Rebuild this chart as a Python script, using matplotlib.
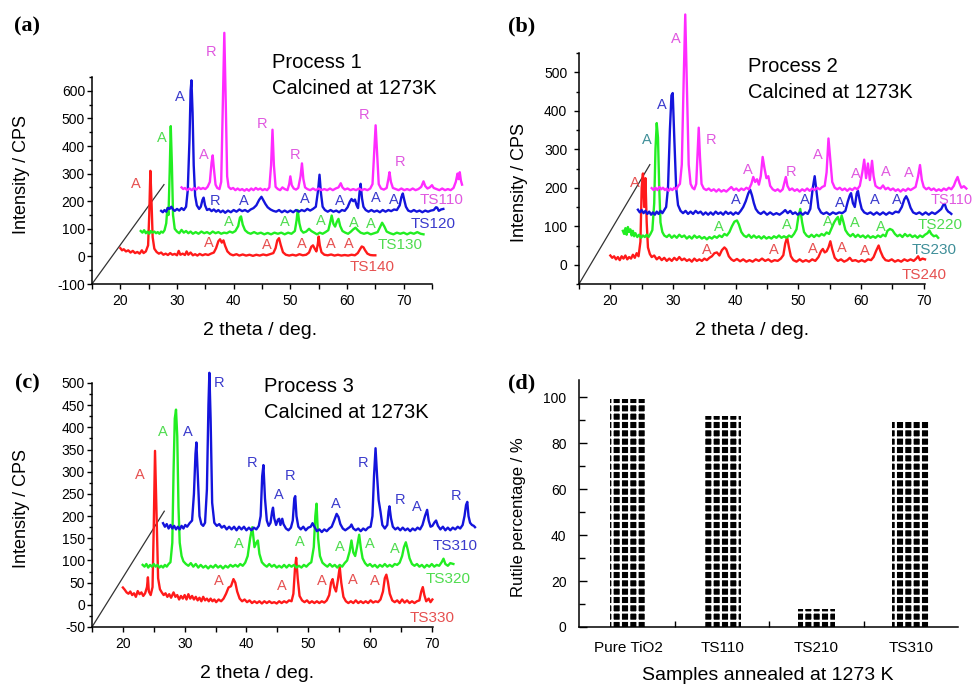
import matplotlib
matplotlib.use("Agg")
import matplotlib.pyplot as plt
from matplotlib.ticker import MultipleLocator

plt.rcParams['font.family'] = ['Liberation Sans', 'DejaVu Sans']
plt.rcParams['hatch.linewidth'] = 1.6
plt.rcParams['axes.unicode_minus'] = False

# ---------------- panel (a): process 1, traces as drawn (offset waterfall) ----------------
a_ts140 = [(20.0, 30), (20.3, 22), (20.6, 26), (21.0, 18), (21.4, 22), (21.8, 14), (22.2, 20), (22.6, 12),
           (23.0, 16), (23.4, 10), (23.8, 22), (24.1, 12), (24.5, 18), (24.9, 40), (25.1, 150), (25.3, 310),
           (25.5, 200), (25.7, 70), (26.0, 28), (26.4, 16), (26.8, 10), (27.2, 14), (27.6, 6), (28.0, 10),
           (28.4, 5), (28.8, 12), (29.2, 6), (29.6, 9), (30.0, 4), (30.3, 20), (30.6, 6), (31.0, 10),
           (31.4, 5), (31.7, 18), (32.0, 6), (32.4, 14), (32.8, 4), (33.2, 8), (33.6, 3), (34.0, 9),
           (34.5, 4), (35.0, 8), (35.5, 5), (36.0, 10), (36.5, 14), (36.9, 30), (37.3, 55), (37.6, 62),
           (37.9, 50), (38.2, 58), (38.5, 38), (38.9, 18), (39.4, 8), (39.9, 4), (40.5, 8), (41.0, 3),
           (41.6, 7), (42.2, 3), (42.8, 6), (43.4, 2), (44.0, 6), (44.6, 3), (45.2, 7), (45.8, 4),
           (46.4, 8), (47.0, 12), (47.4, 30), (47.7, 58), (48.0, 66), (48.3, 42), (48.7, 15), (49.2, 6),
           (49.8, 3), (50.4, 6), (51.0, 3), (51.6, 8), (52.2, 4), (52.8, 6), (53.3, 14), (53.7, 35),
           (54.0, 40), (54.3, 28), (54.6, 18), (54.85, 45), (55.0, 72), (55.2, 40), (55.5, 15), (56.0, 6),
           (56.6, 4), (57.2, 7), (57.8, 3), (58.4, 6), (59.0, 3), (59.6, 5), (60.2, 3), (60.8, 6),
           (61.4, 4), (61.9, 12), (62.3, 26), (62.6, 36), (62.9, 33), (63.2, 22), (63.6, 10), (64.1, 5),
           (64.6, 4), (65.0, 4)]
a_ts130 = [(23.6, 92), (23.9, 86), (24.2, 95), (24.5, 84), (24.8, 90), (25.1, 82), (25.4, 92), (25.7, 86),
           (26.0, 90), (26.3, 84), (26.6, 88), (26.9, 82), (27.2, 90), (27.5, 86), (27.8, 95), (28.1, 120),
           (28.3, 175), (28.5, 150), (28.7, 300), (28.9, 472), (29.1, 330), (29.3, 150), (29.6, 100),
           (30.0, 90), (30.4, 84), (30.8, 96), (31.2, 86), (31.6, 92), (32.0, 84), (32.4, 90), (32.8, 82),
           (33.3, 88), (33.8, 82), (34.3, 90), (34.8, 84), (35.3, 88), (35.8, 82), (36.3, 90), (36.8, 84),
           (37.3, 88), (37.8, 82), (38.3, 86), (38.8, 84), (39.3, 90), (39.8, 86), (40.3, 92), (40.8, 110),
           (41.1, 140), (41.3, 145), (41.6, 115), (42.0, 95), (42.5, 86), (43.0, 82), (43.6, 88), (44.2, 82),
           (44.8, 86), (45.4, 80), (46.0, 85), (46.6, 80), (47.2, 86), (47.8, 82), (48.4, 86), (49.0, 80),
           (49.6, 86), (50.2, 82), (50.8, 92), (51.1, 130), (51.3, 168), (51.6, 120), (51.9, 95), (52.3, 86),
           (52.8, 90), (53.3, 100), (53.7, 92), (54.2, 86), (54.7, 80), (55.2, 86), (55.7, 82), (56.2, 88),
           (56.7, 95), (57.0, 120), (57.3, 148), (57.6, 118), (57.9, 108), (58.2, 125), (58.5, 136),
           (58.8, 110), (59.2, 92), (59.7, 86), (60.2, 82), (60.7, 90), (61.1, 98), (61.5, 104), (61.9, 95),
           (62.4, 86), (63.0, 82), (63.6, 86), (64.2, 80), (64.8, 84), (65.4, 88), (65.8, 105), (66.2, 122),
           (66.6, 108), (67.0, 90), (67.6, 84), (68.2, 80), (68.8, 86), (69.4, 82), (70.0, 86), (70.6, 80),
           (71.2, 86), (71.8, 82), (72.4, 88), (73.0, 82), (73.5, 80)]
a_ts120 = [(27.2, 165), (27.5, 160), (27.8, 168), (28.1, 162), (28.4, 176), (28.7, 172), (29.0, 180),
           (29.3, 170), (29.6, 165), (30.0, 172), (30.4, 166), (30.8, 175), (31.2, 168), (31.6, 180),
           (31.9, 240), (32.2, 420), (32.4, 600), (32.55, 638), (32.75, 520), (32.95, 330), (33.2, 220),
           (33.5, 185), (33.9, 172), (34.2, 180), (34.5, 205), (34.7, 213), (34.95, 185), (35.3, 168),
           (35.7, 172), (36.1, 164), (36.5, 170), (36.9, 162), (37.3, 168), (37.7, 160), (38.1, 166),
           (38.5, 158), (39.0, 166), (39.5, 160), (40.0, 168), (40.5, 162), (41.0, 170), (41.5, 164),
           (42.0, 168), (42.5, 162), (43.0, 170), (43.5, 175), (44.0, 185), (44.5, 205), (44.9, 216),
           (45.2, 205), (45.6, 190), (46.0, 178), (46.5, 170), (47.0, 165), (47.5, 162), (48.0, 168),
           (48.5, 160), (49.0, 166), (49.5, 160), (50.0, 166), (50.5, 160), (51.0, 168), (51.5, 162),
           (52.0, 168), (52.5, 164), (53.0, 172), (53.5, 166), (54.0, 172), (54.5, 180), (54.9, 240),
           (55.15, 296), (55.4, 230), (55.7, 180), (56.1, 168), (56.6, 162), (57.1, 168), (57.6, 162),
           (58.1, 166), (58.6, 160), (59.1, 168), (59.6, 165), (60.1, 178), (60.5, 198), (60.8, 208),
           (61.1, 200), (61.4, 206), (61.7, 185), (61.95, 175), (62.2, 230), (62.4, 263), (62.65, 210),
           (62.9, 180), (63.3, 168), (63.8, 162), (64.3, 168), (64.8, 162), (65.3, 166), (65.8, 160),
           (66.3, 168), (66.8, 162), (67.3, 168), (67.8, 164), (68.3, 170), (68.8, 168), (69.3, 185),
           (69.6, 215), (69.85, 228), (70.1, 205), (70.4, 180), (70.8, 166), (71.3, 162), (71.8, 168),
           (72.3, 162), (72.8, 166), (73.3, 160), (73.8, 166), (74.3, 162), (74.8, 166), (75.3, 168),
           (75.7, 178), (75.9, 177), (76.2, 165), (76.6, 170), (77.0, 172)]
a_ts110 = [(30.8, 250), (31.1, 244), (31.4, 248), (31.8, 240), (32.2, 246), (32.6, 240), (33.0, 248),
           (33.4, 242), (33.8, 250), (34.2, 244), (34.6, 248), (35.0, 244), (35.4, 252), (35.8, 270),
           (36.1, 340), (36.3, 366), (36.5, 320), (36.8, 260), (37.1, 248), (37.5, 244), (37.8, 270),
           (38.1, 560), (38.35, 810), (38.6, 560), (38.85, 290), (39.1, 252), (39.5, 244), (39.9, 248),
           (40.3, 240), (40.7, 246), (41.1, 240), (41.5, 244), (41.9, 238), (42.3, 244), (42.7, 238),
           (43.1, 246), (43.5, 240), (43.9, 248), (44.3, 242), (44.7, 246), (45.1, 240), (45.5, 244),
           (45.9, 240), (46.3, 250), (46.6, 330), (46.85, 459), (47.1, 330), (47.4, 252), (47.8, 244),
           (48.2, 240), (48.6, 250), (49.0, 244), (49.5, 240), (49.8, 262), (50.0, 290), (50.25, 258),
           (50.6, 246), (51.0, 242), (51.4, 248), (51.8, 290), (52.05, 337), (52.3, 280), (52.6, 250),
           (53.0, 244), (53.5, 240), (54.0, 246), (54.5, 240), (55.0, 246), (55.5, 240), (56.0, 244),
           (56.5, 240), (57.0, 246), (57.5, 240), (58.0, 246), (58.5, 250), (58.9, 265), (59.2, 250),
           (59.6, 242), (60.1, 246), (60.6, 240), (61.1, 244), (61.6, 240), (62.1, 246), (62.6, 240),
           (63.1, 244), (63.6, 240), (64.1, 246), (64.5, 262), (64.8, 380), (65.05, 475), (65.3, 380),
           (65.6, 262), (66.0, 246), (66.5, 242), (67.0, 248), (67.3, 280), (67.5, 305), (67.75, 270),
           (68.1, 248), (68.6, 244), (69.1, 240), (69.6, 246), (70.1, 240), (70.6, 244), (71.1, 240),
           (71.6, 246), (72.1, 240), (72.6, 244), (73.1, 252), (73.5, 272), (73.8, 255), (74.2, 246),
           (74.6, 250), (75.0, 258), (75.3, 248), (75.8, 244), (76.3, 240), (76.8, 246), (77.3, 240),
           (77.8, 244), (78.3, 240), (78.8, 248), (79.2, 270), (79.5, 300), (79.7, 280), (79.9, 305),
           (80.1, 275), (80.3, 260)]

a_marks_140 = [(22.76, 262, 'A'), (35.55, 50, 'A'), (45.94, 40, 'A'), (52.1, 46, 'A'), (57.2, 46, 'A'),
               (60.3, 44, 'A')]
a_marks_130 = [(27.3, 430, 'A'), (39.19, 125, 'A'), (49.05, 125, 'A'), (55.33, 128, 'A'), (61.2, 122, 'A'),
               (64.13, 119, 'A')]
a_marks_120 = [(30.5, 576, 'A'), (36.73, 201, 'R'), (41.83, 201, 'A'), (52.57, 207, 'A'), (58.73, 201, 'A'),
               (65.01, 210, 'A'), (68.24, 205, 'A')]
a_marks_110 = [(36.08, 740, 'R'), (34.79, 366, 'A'), (45.06, 481, 'R'), (50.75, 366, 'R'), (63.08, 511, 'R'),
               (69.3, 341, 'R')]
a_names = ['TS110', 'TS120', 'TS130', 'TS140']
a_name_pos = [(76.75, 204), (75.28, 119), (69.3, 41), (64.4, -39)]
a_diag = [(15.0, -100), (27.7, 260)]

# ---------------- panel (b): process 2 ----------------
b_ts240 = [(20.0, 24), (20.3, 18), (20.6, 22), (20.9, 14), (21.2, 20), (21.5, 12), (21.8, 22), (22.1, 16),
           (22.4, 24), (22.7, 14), (23.0, 20), (23.3, 16), (23.6, 26), (23.9, 18), (24.2, 30), (24.5, 22),
           (24.8, 60), (25.0, 200), (25.2, 237), (25.4, 150), (25.6, 225), (25.8, 110), (26.0, 45),
           (26.3, 28), (26.6, 20), (27.0, 24), (27.4, 14), (27.8, 20), (28.2, 12), (28.6, 18), (29.0, 10),
           (29.4, 16), (29.8, 10), (30.2, 18), (30.6, 12), (31.0, 20), (31.4, 12), (31.8, 16), (32.2, 10),
           (32.6, 14), (33.0, 8), (33.4, 16), (33.8, 10), (34.2, 14), (34.6, 10), (35.0, 16), (35.4, 12),
           (35.8, 18), (36.2, 22), (36.6, 30), (37.0, 32), (37.4, 24), (37.8, 38), (38.2, 45), (38.5, 40),
           (38.9, 22), (39.3, 14), (39.7, 10), (40.2, 15), (40.7, 9), (41.2, 14), (41.7, 8), (42.2, 12),
           (42.7, 8), (43.2, 14), (43.7, 10), (44.2, 16), (44.7, 10), (45.2, 14), (45.7, 8), (46.2, 12),
           (46.7, 10), (47.2, 16), (47.6, 25), (47.9, 55), (48.2, 71), (48.5, 45), (48.8, 22), (49.2, 12),
           (49.7, 8), (50.2, 14), (50.7, 8), (51.2, 12), (51.7, 8), (52.2, 14), (52.7, 10), (53.2, 20),
           (53.6, 35), (53.9, 41), (54.2, 32), (54.5, 35), (54.8, 45), (55.1, 61), (55.4, 40), (55.8, 18),
           (56.3, 10), (56.8, 14), (57.3, 8), (57.8, 12), (58.2, 18), (58.6, 10), (59.1, 12), (59.6, 8),
           (60.1, 12), (60.6, 8), (61.1, 14), (61.6, 12), (62.0, 20), (62.4, 36), (62.8, 50), (63.1, 35),
           (63.5, 20), (63.9, 12), (64.4, 10), (64.9, 14), (65.4, 8), (65.9, 12), (66.4, 8), (66.9, 14),
           (67.4, 10), (67.9, 14), (68.4, 10), (68.8, 16), (69.1, 22), (69.4, 12), (69.8, 16), (70.2, 14)]
b_ts230 = [(22.0, 88), (22.2, 80), (22.4, 95), (22.6, 78), (22.8, 98), (23.0, 85), (23.2, 92), (23.4, 76),
           (23.6, 88), (23.8, 74), (24.0, 82), (24.3, 72), (24.6, 78), (24.9, 70), (25.2, 76), (25.5, 72),
           (25.8, 78), (26.1, 72), (26.4, 80), (26.7, 90), (27.0, 160), (27.2, 300), (27.4, 368),
           (27.6, 330), (27.8, 200), (28.0, 110), (28.3, 85), (28.6, 76), (29.0, 72), (29.4, 78), (29.8, 70),
           (30.2, 76), (30.6, 70), (31.0, 78), (31.4, 72), (31.8, 76), (32.2, 68), (32.6, 74), (33.0, 68),
           (33.4, 76), (33.8, 70), (34.2, 74), (34.6, 68), (35.0, 72), (35.4, 66), (35.8, 72), (36.2, 68),
           (36.6, 74), (37.0, 70), (37.4, 76), (37.8, 72), (38.2, 80), (38.6, 76), (39.0, 85), (39.4, 100),
           (39.8, 112), (40.2, 115), (40.5, 105), (40.9, 85), (41.3, 76), (41.7, 72), (42.1, 78), (42.5, 70),
           (42.9, 76), (43.3, 70), (43.7, 74), (44.1, 68), (44.5, 74), (44.9, 68), (45.3, 72), (45.7, 68),
           (46.1, 74), (46.5, 70), (46.9, 76), (47.3, 70), (47.7, 74), (48.1, 70), (48.5, 76), (48.9, 72),
           (49.3, 80), (49.7, 92), (50.0, 125), (50.3, 145), (50.6, 110), (50.9, 85), (51.3, 76), (51.7, 72),
           (52.1, 78), (52.5, 72), (52.9, 78), (53.3, 74), (53.7, 80), (54.1, 76), (54.5, 84), (54.9, 80),
           (55.3, 95), (55.7, 110), (56.0, 118), (56.3, 124), (56.6, 105), (56.9, 128), (57.2, 110),
           (57.5, 90), (57.9, 80), (58.3, 74), (58.7, 80), (59.1, 72), (59.5, 78), (59.9, 72), (60.3, 76),
           (60.7, 70), (61.1, 76), (61.5, 70), (61.9, 74), (62.3, 70), (62.7, 76), (63.1, 72), (63.5, 78),
           (63.9, 74), (64.2, 88), (64.6, 93), (65.0, 90), (65.4, 80), (65.8, 74), (66.2, 78), (66.6, 72),
           (67.0, 80), (67.4, 74), (67.8, 78), (68.2, 72), (68.6, 76), (69.0, 70), (69.4, 76), (69.8, 72),
           (70.2, 78), (70.6, 82), (70.9, 89), (71.2, 80), (71.6, 74), (72.0, 76), (72.3, 70)]
b_ts220 = [(24.4, 143), (24.7, 136), (25.0, 142), (25.3, 134), (25.6, 140), (25.9, 132), (26.2, 138),
           (26.5, 130), (26.8, 136), (27.1, 130), (27.4, 138), (27.7, 132), (28.0, 140), (28.3, 134),
           (28.6, 142), (28.9, 150), (29.2, 200), (29.5, 350), (29.75, 440), (29.95, 446), (30.2, 330),
           (30.5, 200), (30.8, 155), (31.2, 140), (31.6, 134), (32.0, 140), (32.4, 132), (32.8, 138),
           (33.2, 132), (33.6, 140), (34.0, 134), (34.4, 138), (34.8, 130), (35.2, 136), (35.6, 130),
           (36.0, 136), (36.4, 130), (36.8, 138), (37.2, 132), (37.6, 136), (38.0, 130), (38.4, 138),
           (38.8, 132), (39.2, 136), (39.6, 130), (40.0, 136), (40.4, 132), (40.8, 140), (41.2, 150),
           (41.6, 165), (42.0, 185), (42.3, 195), (42.6, 180), (42.9, 160), (43.2, 145), (43.6, 136),
           (44.0, 132), (44.5, 138), (45.0, 130), (45.5, 136), (46.0, 130), (46.5, 134), (47.0, 130),
           (47.5, 136), (47.9, 142), (48.3, 134), (48.7, 140), (49.1, 132), (49.5, 136), (49.9, 130),
           (50.3, 136), (50.7, 130), (51.1, 136), (51.5, 132), (51.9, 145), (52.3, 200), (52.6, 230),
           (52.9, 190), (53.2, 148), (53.6, 136), (54.0, 132), (54.5, 136), (55.0, 130), (55.5, 136),
           (56.0, 132), (56.5, 136), (57.0, 134), (57.5, 140), (57.9, 165), (58.2, 180), (58.4, 186),
           (58.7, 160), (59.0, 150), (59.3, 185), (59.5, 192), (59.8, 165), (60.1, 145), (60.5, 136),
           (61.0, 132), (61.5, 136), (62.0, 130), (62.5, 136), (63.0, 130), (63.5, 136), (64.0, 130),
           (64.5, 136), (65.0, 132), (65.5, 138), (66.0, 136), (66.5, 150), (66.9, 170), (67.2, 178),
           (67.5, 168), (67.9, 148), (68.3, 136), (68.8, 132), (69.3, 136), (69.8, 130), (70.3, 136),
           (70.8, 130), (71.3, 136), (71.8, 132), (72.3, 138), (72.8, 145), (73.1, 155), (73.35, 158),
           (73.6, 145), (73.9, 138), (74.2, 135), (74.4, 132)]
b_ts210 = [(26.6, 199), (26.9, 194), (27.2, 200), (27.5, 194), (27.8, 202), (28.1, 196), (28.4, 200),
           (28.7, 194), (29.0, 198), (29.3, 192), (29.6, 198), (29.9, 194), (30.2, 200), (30.5, 196),
           (30.8, 204), (31.1, 210), (31.4, 260), (31.7, 480), (31.95, 650), (32.2, 470), (32.5, 260),
           (32.8, 210), (33.1, 200), (33.4, 196), (33.7, 210), (33.95, 300), (34.1, 356), (34.3, 280),
           (34.55, 210), (34.9, 198), (35.3, 194), (35.7, 198), (36.1, 192), (36.5, 196), (36.9, 190),
           (37.3, 196), (37.7, 190), (38.1, 194), (38.5, 190), (38.9, 196), (39.3, 202), (39.7, 194),
           (40.1, 198), (40.5, 192), (40.9, 198), (41.3, 194), (41.7, 200), (42.1, 196), (42.5, 210),
           (42.8, 228), (43.1, 215), (43.4, 222), (43.7, 208), (44.0, 230), (44.3, 280), (44.6, 250),
           (44.9, 225), (45.2, 230), (45.5, 205), (45.9, 196), (46.3, 192), (46.7, 196), (47.1, 190),
           (47.5, 196), (47.8, 215), (48.0, 228), (48.25, 205), (48.6, 194), (49.0, 198), (49.4, 192),
           (49.8, 196), (50.2, 190), (50.6, 196), (51.0, 192), (51.4, 198), (51.8, 192), (52.2, 198),
           (52.6, 194), (53.0, 200), (53.4, 196), (53.8, 202), (54.2, 205), (54.5, 240), (54.8, 328),
           (55.1, 270), (55.4, 215), (55.8, 200), (56.2, 196), (56.6, 200), (57.0, 194), (57.4, 198),
           (57.8, 192), (58.2, 198), (58.6, 194), (59.0, 200), (59.4, 196), (59.8, 205), (60.2, 240),
           (60.5, 273), (60.8, 225), (61.1, 263), (61.4, 220), (61.75, 270), (62.0, 230), (62.3, 205),
           (62.7, 200), (63.1, 198), (63.5, 206), (63.9, 196), (64.3, 200), (64.7, 194), (65.1, 198),
           (65.5, 192), (65.9, 196), (66.3, 190), (66.7, 196), (67.1, 192), (67.5, 198), (67.9, 194),
           (68.3, 198), (68.7, 202), (69.1, 230), (69.4, 259), (69.7, 220), (70.0, 202), (70.4, 196),
           (70.8, 200), (71.2, 194), (71.6, 198), (72.0, 192), (72.4, 196), (72.8, 192), (73.2, 198),
           (73.6, 194), (74.0, 200), (74.4, 196), (74.8, 205), (75.1, 218), (75.4, 228), (75.7, 212),
           (76.0, 200), (76.4, 204), (76.8, 198)]

b_marks_240 = [(23.9, 212, 'A'), (35.4, 38, 'A'), (46.1, 38, 'A'), (52.3, 41, 'A'), (56.9, 44, 'A'),
               (60.6, 37, 'A')]
b_marks_230 = [(37.3, 98, 'A'), (48.1, 104, 'A'), (54.7, 111, 'A'), (59.0, 108, 'A'), (63.1, 98, 'A')]
b_marks_230_teal = [(25.9, 324, 'A')]
b_marks_220 = [(28.2, 416, 'A'), (40.1, 169, 'A'), (51.0, 169, 'A'), (56.6, 160, 'A'), (62.2, 167, 'A'),
               (65.7, 167, 'A')]
b_marks_210 = [(30.5, 587, 'A'), (36.0, 324, 'R'), (42.0, 246, 'A'), (48.9, 241, 'R'), (53.1, 285, 'A'),
               (59.15, 237, 'A'), (63.9, 241, 'A'), (67.6, 239, 'A')]
b_names = ['TS110', 'TS220', 'TS230', 'TS240']
b_name_pos = [(71.1, 169), (72.55, 104), (71.65, 38), (70.0, -26)]
b_diag = [(15.0, -50), (26.3, 260)]

# ---------------- panel (c): process 3 ----------------
c_ts330 = [(20.0, 39), (20.3, 34), (20.6, 28), (20.9, 25), (21.2, 30), (21.5, 22), (21.8, 26), (22.1, 18),
           (22.4, 31), (22.7, 24), (23.0, 28), (23.3, 20), (23.6, 26), (23.9, 40), (24.05, 62), (24.2, 30),
           (24.5, 22), (24.8, 40), (25.0, 180), (25.2, 347), (25.45, 200), (25.7, 60), (26.0, 35),
           (26.3, 28), (26.6, 22), (26.9, 26), (27.2, 18), (27.5, 24), (27.8, 16), (28.2, 28), (28.5, 18),
           (28.8, 22), (29.1, 12), (29.4, 20), (29.7, 14), (30.0, 22), (30.3, 12), (30.6, 24), (30.9, 14),
           (31.2, 20), (31.5, 12), (31.8, 18), (32.1, 10), (32.4, 16), (32.7, 8), (33.0, 18), (33.3, 10),
           (33.6, 14), (33.9, 8), (34.2, 14), (34.5, 8), (34.8, 12), (35.1, 6), (35.5, 12), (35.9, 8),
           (36.3, 14), (36.7, 25), (37.1, 39), (37.5, 42), (37.9, 58), (38.2, 50), (38.5, 30), (38.9, 14),
           (39.3, 8), (39.7, 12), (40.1, 6), (40.5, 10), (40.9, 4), (41.3, 8), (41.7, 4), (42.1, 8),
           (42.5, 3), (42.9, 8), (43.3, 4), (43.7, 8), (44.1, 4), (44.5, 6), (44.9, 3), (45.3, 8), (45.7, 4),
           (46.1, 8), (46.5, 5), (46.9, 10), (47.3, 8), (47.6, 25), (47.85, 80), (48.05, 106), (48.3, 60),
           (48.6, 20), (49.0, 10), (49.4, 6), (49.8, 10), (50.2, 4), (50.6, 8), (51.0, 4), (51.4, 8),
           (51.8, 4), (52.2, 8), (52.6, 5), (53.0, 10), (53.4, 22), (53.7, 50), (53.95, 58), (54.2, 40),
           (54.5, 30), (54.8, 55), (55.1, 85), (55.35, 50), (55.7, 18), (56.1, 8), (56.5, 4), (56.9, 8),
           (57.3, 4), (57.7, 10), (58.1, 4), (58.5, 8), (58.9, 4), (59.3, 8), (59.7, 4), (60.1, 10),
           (60.5, 5), (60.9, 8), (61.3, 6), (61.7, 12), (62.1, 30), (62.4, 60), (62.65, 68), (62.9, 52),
           (63.2, 25), (63.6, 10), (64.0, 6), (64.4, 10), (64.8, 4), (65.2, 12), (65.6, 5), (66.0, 10),
           (66.4, 4), (66.8, 8), (67.2, 4), (67.6, 8), (68.0, 10), (68.3, 30), (68.55, 40), (68.8, 22),
           (69.1, 8), (69.5, 14), (69.8, 6), (70.1, 12)]
c_ts320 = [(23.2, 90), (23.5, 86), (23.8, 92), (24.1, 84), (24.4, 90), (24.7, 86), (25.0, 92), (25.3, 86),
           (25.6, 90), (25.9, 84), (26.2, 88), (26.5, 84), (26.8, 90), (27.1, 86), (27.4, 92), (27.7, 96),
           (28.0, 140), (28.2, 300), (28.4, 420), (28.6, 440), (28.8, 380), (29.0, 220), (29.2, 140),
           (29.5, 110), (29.8, 98), (30.2, 92), (30.6, 88), (31.0, 94), (31.4, 86), (31.8, 92), (32.2, 84),
           (32.6, 90), (33.0, 84), (33.4, 88), (33.8, 82), (34.2, 88), (34.6, 84), (35.0, 90), (35.4, 84),
           (35.8, 88), (36.2, 82), (36.6, 88), (37.0, 84), (37.4, 90), (37.8, 86), (38.2, 90), (38.6, 86),
           (39.0, 92), (39.4, 88), (39.8, 95), (40.2, 110), (40.6, 150), (40.95, 175), (41.3, 130),
           (41.6, 140), (41.85, 145), (42.1, 115), (42.5, 96), (42.9, 90), (43.3, 86), (43.7, 92),
           (44.1, 86), (44.5, 90), (44.9, 84), (45.3, 88), (45.7, 84), (46.1, 90), (46.5, 84), (46.9, 90),
           (47.3, 86), (47.7, 90), (48.1, 84), (48.5, 88), (48.9, 84), (49.3, 90), (49.7, 86), (50.1, 92),
           (50.5, 96), (50.9, 130), (51.15, 200), (51.35, 228), (51.6, 150), (51.9, 110), (52.3, 95),
           (52.7, 90), (53.1, 86), (53.5, 92), (53.9, 86), (54.3, 90), (54.7, 84), (55.1, 90), (55.5, 86),
           (55.9, 94), (56.3, 100), (56.7, 120), (57.0, 145), (57.3, 118), (57.6, 110), (57.9, 130),
           (58.25, 158), (58.5, 130), (58.8, 105), (59.2, 94), (59.6, 88), (60.0, 92), (60.4, 86),
           (60.8, 90), (61.2, 84), (61.6, 90), (62.0, 86), (62.4, 92), (62.8, 86), (63.2, 90), (63.6, 86),
           (64.0, 92), (64.4, 90), (64.8, 95), (65.2, 110), (65.5, 130), (65.8, 141), (66.1, 125),
           (66.4, 105), (66.8, 92), (67.2, 88), (67.6, 92), (68.0, 86), (68.4, 90), (68.8, 84), (69.2, 90),
           (69.6, 86), (70.0, 92), (70.4, 86), (70.8, 90), (71.2, 88), (71.6, 96), (71.9, 104), (72.2, 92),
           (72.6, 88), (73.0, 94), (73.5, 92)]
c_ts310 = [(26.5, 184), (26.8, 176), (27.1, 182), (27.4, 172), (27.7, 180), (28.0, 172), (28.3, 178),
           (28.6, 170), (28.9, 176), (29.2, 170), (29.5, 178), (29.8, 172), (30.1, 180), (30.4, 176),
           (30.8, 184), (31.2, 190), (31.5, 250), (31.75, 340), (31.9, 366), (32.1, 300), (32.4, 200),
           (32.7, 182), (33.0, 178), (33.3, 185), (33.6, 260), (33.85, 450), (34.0, 523), (34.2, 420),
           (34.45, 230), (34.8, 185), (35.2, 178), (35.6, 182), (36.0, 174), (36.4, 178), (36.8, 170),
           (37.2, 176), (37.6, 170), (38.0, 176), (38.4, 168), (38.8, 176), (39.2, 170), (39.6, 176),
           (40.0, 168), (40.4, 174), (40.8, 168), (41.2, 174), (41.6, 170), (42.0, 178), (42.3, 200),
           (42.55, 290), (42.75, 315), (43.0, 240), (43.3, 190), (43.6, 178), (43.9, 185), (44.15, 210),
           (44.3, 219), (44.5, 195), (44.8, 180), (45.1, 192), (45.3, 194), (45.5, 180), (45.8, 194),
           (46.0, 182), (46.4, 172), (46.8, 168), (47.2, 174), (47.5, 190), (47.75, 240), (47.9, 245),
           (48.1, 200), (48.4, 176), (48.8, 170), (49.2, 176), (49.6, 168), (50.0, 174), (50.4, 176),
           (50.7, 184), (51.0, 176), (51.4, 166), (51.8, 170), (52.2, 164), (52.6, 170), (53.0, 166),
           (53.4, 172), (53.8, 176), (54.2, 190), (54.6, 205), (54.9, 198), (55.2, 182), (55.6, 172),
           (56.0, 168), (56.4, 172), (56.8, 176), (57.0, 181), (57.3, 172), (57.7, 168), (58.1, 172),
           (58.5, 166), (58.9, 172), (59.3, 168), (59.7, 174), (60.1, 176), (60.4, 200), (60.65, 290),
           (60.9, 353), (61.15, 290), (61.4, 236), (61.7, 210), (62.0, 180), (62.4, 172), (62.8, 180),
           (63.0, 210), (63.15, 222), (63.4, 195), (63.7, 176), (64.1, 170), (64.5, 174), (64.9, 168),
           (65.3, 174), (65.7, 168), (66.1, 172), (66.5, 166), (66.9, 172), (67.3, 168), (67.7, 174),
           (68.1, 170), (68.5, 180), (68.9, 200), (69.25, 214), (69.5, 190), (69.8, 176), (70.1, 178),
           (70.45, 186), (70.7, 190), (71.0, 178), (71.4, 170), (71.8, 176), (72.2, 168), (72.6, 174),
           (73.0, 168), (73.4, 174), (73.8, 170), (74.2, 176), (74.6, 172), (75.0, 180), (75.3, 200),
           (75.55, 225), (75.75, 232), (75.95, 200), (76.2, 185), (76.5, 180), (76.8, 178), (77.0, 175)]

c_marks_330 = [(22.7, 292, 'A'), (35.5, 53, 'A'), (45.7, 43, 'A'), (52.2, 53, 'A'), (57.3, 56, 'A'),
               (60.8, 53, 'A')]
c_marks_320 = [(26.5, 390, 'A'), (38.7, 136, 'A'), (48.7, 141, 'A'), (55.2, 131, 'A'), (59.9, 137, 'A'),
               (64.0, 126, 'A')]
c_marks_310 = [(30.5, 390, 'A'), (35.64, 500, 'R'), (40.9, 319, 'R'), (45.3, 247, 'A'), (47.0, 290, 'R'),
               (54.4, 227, 'A'), (58.9, 319, 'R'), (64.9, 237, 'R'), (67.6, 220, 'A'), (73.9, 245, 'R')]
c_names = ['TS310', 'TS320', 'TS330']
c_name_pos = [(73.8, 132), (72.7, 58), (70.0, -29)]
c_diag = [(15.0, -50), (26.7, 211)]

# ---------------- panel (d): rutile percentage ----------------
d_samples = ['Pure TiO2', 'TS110', 'TS210', 'TS310']
d_rutile = [99.1, 91.6, 7.8, 89.0]

RED, GREEN, BLUE, MAGENTA = '#ff1a1a', '#22ee22', '#1414dc', '#ff2bff'
RED_T, GREEN_T, BLUE_T, MAGENTA_T, TEAL_T = '#e65050', '#4fdc4f', '#3a3acc', '#e058e0', '#3f8f99'

W, H = 975, 685


def fig_box(left, top, right, bottom):
    return [left / W, 1 - bottom / H, (right - left) / W, (bottom - top) / H]


def fig_text(fig, px, py, s, **kw):
    fig.text(px / W, 1 - py / H, s, **kw)


def style_xrd(ax, xlim, ylim, ymajor, yminor, ypad):
    ax.set_xlim(*xlim)
    ax.set_ylim(*ylim)
    for side in ('top', 'right'):
        ax.spines[side].set_visible(False)
    for side in ('left', 'bottom'):
        ax.spines[side].set_linewidth(1.1)
    ax.xaxis.set_major_locator(MultipleLocator(10))
    ax.xaxis.set_minor_locator(MultipleLocator(5))
    ax.yaxis.set_major_locator(MultipleLocator(ymajor))
    ax.yaxis.set_minor_locator(MultipleLocator(yminor))
    ax.tick_params(which='both', direction='out', width=1.0, labelsize=10)
    ax.tick_params(which='major', length=3.5)
    ax.tick_params(which='minor', length=2.5)
    ax.tick_params(axis='x', which='both', length=3.5, pad=4)
    ax.tick_params(axis='y', pad=ypad)
    ax.patch.set_alpha(0)


def draw_trace(ax, pts, color):
    xs = [p[0] for p in pts]
    ys = [p[1] for p in pts]
    ax.plot(xs, ys, color=color, lw=1.7, clip_on=False, solid_joinstyle='round')


def draw_marks(ax, marks, color):
    for x, y, s in marks:
        ax.text(x, y, s, color=color, fontsize=10.5, ha='center', va='center')


def draw_names(ax, names, pos, colors, ha='center', size=11):
    for name, (x, y), c in zip(names, pos, colors):
        ax.text(x, y, name, color=c, fontsize=size, ha=ha, va='center', clip_on=False)


fig = plt.figure(figsize=(9.75, 6.85), dpi=100)

# (a)
ax = fig.add_axes(fig_box(92, 77, 432, 284))
style_xrd(ax, (15, 75), (-100, 650), 100, 50, 1.5)
ax.plot(*zip(*a_diag), color='#333333', lw=0.9)
for pts, c in [(a_ts140, RED), (a_ts130, GREEN), (a_ts120, BLUE), (a_ts110, MAGENTA)]:
    draw_trace(ax, pts, c)
draw_marks(ax, a_marks_140, RED_T)
draw_marks(ax, a_marks_130, GREEN_T)
draw_marks(ax, a_marks_120, BLUE_T)
draw_marks(ax, a_marks_110, MAGENTA_T)
draw_names(ax, a_names, a_name_pos, [MAGENTA_T, BLUE_T, GREEN_T, RED_T])

# (b)
ax = fig.add_axes(fig_box(579, 53, 925, 284))
style_xrd(ax, (15, 70.2), (-50, 550), 100, 50, 5)
ax.plot(*zip(*b_diag), color='#333333', lw=0.9)
for pts, c in [(b_ts240, RED), (b_ts230, GREEN), (b_ts220, BLUE), (b_ts210, MAGENTA)]:
    draw_trace(ax, pts, c)
draw_marks(ax, b_marks_240, RED_T)
draw_marks(ax, b_marks_230, GREEN_T)
draw_marks(ax, b_marks_230_teal, TEAL_T)
draw_marks(ax, b_marks_220, BLUE_T)
draw_marks(ax, b_marks_210, MAGENTA_T)
draw_names(ax, b_names[:1], b_name_pos[:1], [MAGENTA_T], ha='left', size=10.5)
draw_names(ax, b_names[1:], b_name_pos[1:], [GREEN_T, TEAL_T, RED_T])

# (c)
ax = fig.add_axes(fig_box(92, 383, 433, 627))
style_xrd(ax, (15, 70.2), (-50, 500), 50, 25, 1.5)
ax.plot(*zip(*c_diag), color='#333333', lw=0.9)
for pts, c in [(c_ts330, RED), (c_ts320, GREEN), (c_ts310, BLUE)]:
    draw_trace(ax, pts, c)
draw_marks(ax, c_marks_330, RED_T)
draw_marks(ax, c_marks_320, GREEN_T)
draw_marks(ax, c_marks_310, BLUE_T)
draw_names(ax, c_names, c_name_pos, [BLUE_T, GREEN_T, RED_T])

# (d)
ax = fig.add_axes(fig_box(579, 380, 958, 627))
pos = list(range(len(d_samples)))
ax.bar(pos, d_rutile, width=0.39, color='black', edgecolor='white', hatch='++', linewidth=0)
ax.set_xlim(-0.52, 3.5)
ax.set_ylim(0, 107.4)
for side in ('top', 'right'):
    ax.spines[side].set_visible(False)
for side in ('left', 'bottom'):
    ax.spines[side].set_linewidth(1.1)
ax.set_xticks(pos)
ax.set_xticklabels(d_samples)
ax.set_xticks([0.5, 1.5, 2.5], minor=True)
ax.yaxis.set_major_locator(MultipleLocator(20))
ax.yaxis.set_minor_locator(MultipleLocator(10))
ax.tick_params(which='both', direction='in', width=1.0)
ax.tick_params(axis='y', which='major', length=6, pad=9, labelsize=10)
ax.tick_params(axis='y', which='minor', length=4)
ax.tick_params(axis='x', which='major', length=0, pad=10, labelsize=11)
ax.tick_params(axis='x', which='minor', length=4)

# axis titles
for px, py in [(22, 175), (519, 182), (22, 508)]:
    fig_text(fig, px, py, 'Intensity / CPS', rotation=90, fontsize=13, ha='center', va='center')
fig_text(fig, 519, 517, 'Rutile percentage / %', rotation=90, fontsize=12, ha='center', va='center')
for px, py in [(260, 330), (752, 330), (257, 673)]:
    fig_text(fig, px, py, '2 theta / deg.', fontsize=14, ha='center', va='center')
fig_text(fig, 768, 675, 'Samples annealed at 1273 K', fontsize=14, ha='center', va='center')

# process notes
for px, py1, py2, num in [(272, 63, 88, 1), (748, 67, 92, 2), (264, 387, 413, 3)]:
    fig_text(fig, px, py1, f'Process {num}', fontsize=14.5, ha='left', va='center')
    fig_text(fig, px, py2, 'Calcined at 1273K', fontsize=14.5, ha='left', va='center')

# panel letters
for px, py, s in [(27, 26, '(a)'), (522, 26, '(b)'), (27, 383, '(c)'), (522, 383, '(d)')]:
    fig_text(fig, px, py, s, fontsize=16, fontweight='bold', family='Liberation Serif',
             ha='center', va='center')

fig.savefig('out.png', dpi=100)
